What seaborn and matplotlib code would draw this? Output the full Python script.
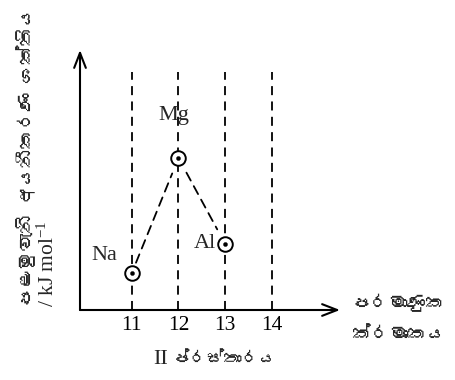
import matplotlib
matplotlib.use("Agg")
import matplotlib.pyplot as plt
import seaborn as sns
from matplotlib import font_manager, ft2font

# Data (relative heights, no scale on the y axis)
atomic_numbers = [11, 12, 13, 14]
elements = ["Na", "Mg", "Al"]
element_z = [11, 12, 13]
first_ie = [37, 152, 66]
y_label_si = "පළමුවැනි අයනීකරණ ශක්තිය"
y_label_unit = "/ kJ mol$^{-1}$"
x_label_si = "පරමාණුක\nක්රමාංකය"
graph_no = "II"
graph_word = "ප්රස්තාරය"


def find_sinhala_font():
    for f in font_manager.fontManager.ttflist:
        try:
            cmap = ft2font.FT2Font(f.fname).get_charmap()
        except Exception:
            continue
        if 0x0DB4 in cmap:
            return f.name
    return None


sns.set_theme(style="white")
plt.rcParams["font.family"] = ["Liberation Serif", "DejaVu Serif"]
plt.rcParams["mathtext.fontset"] = "custom"
plt.rcParams["mathtext.rm"] = "Liberation Serif"
plt.rcParams["mathtext.it"] = "Liberation Serif:italic"

si_font = find_sinhala_font()
si_family = [si_font, "DejaVu Sans"] if si_font else ["DejaVu Sans"]

fig = plt.figure(figsize=(4.55, 3.8), dpi=100)
ax = fig.add_axes([80 / 455, 70 / 380, 260 / 455, 260 / 380])
ax.set_xlim(9.89, 15.46)
ax.set_ylim(0, 260)
for s in ax.spines.values():
    s.set_visible(False)
ax.set_yticks([])
ax.set_xticks(atomic_numbers, labels=[str(z) for z in atomic_numbers])
ax.tick_params(axis="x", length=0, pad=4, labelsize=15.5, colors="black")

# axes as arrows
arrow = dict(arrowstyle="->,head_length=0.9,head_width=0.35", lw=1.5,
             color="black", shrinkA=0, shrinkB=0)
ax.annotate("", xy=(0, 1), xytext=(0, 0), xycoords="axes fraction", arrowprops=arrow)
ax.annotate("", xy=(1, 0), xytext=(0, 0), xycoords="axes fraction", arrowprops=arrow)

# dashed guide lines for each atomic number
ax.vlines(atomic_numbers, 0, 238, colors="black", linestyles=(0, (5, 3.5)), lw=1.3)

# dashed trend between the points
shrinks = [(8, 12), (12, 12)]
for i in range(len(element_z) - 1):
    ax.annotate("", xy=(element_z[i + 1], first_ie[i + 1]),
                xytext=(element_z[i], first_ie[i]),
                arrowprops=dict(arrowstyle="-", lw=1.3, color="black",
                                linestyle=(0, (5, 3.5)),
                                shrinkA=shrinks[i][0], shrinkB=shrinks[i][1]))

sns.scatterplot(x=element_z, y=first_ie, s=110, facecolor="white",
                edgecolor="black", linewidth=1.4, zorder=3, ax=ax)
sns.scatterplot(x=element_z, y=first_ie, s=9, color="black",
                edgecolor="black", zorder=4, ax=ax)

offsets = {"Na": (-20, 9), "Mg": (-3.6, 27.5), "Al": (-14.4, -2.9)}
for el, z, e in zip(elements, element_z, first_ie):
    ax.annotate(el, xy=(z, e), xytext=offsets[el], textcoords="offset points",
                ha="center", va="baseline", fontsize=16)

# labels
fig.text(26 / 455, 73 / 380, y_label_si, rotation=90, ha="center", va="bottom",
         fontsize=13.5, family=si_family)
fig.text(48 / 455, 73 / 380, y_label_unit, rotation=90, ha="center", va="bottom",
         fontsize=15.5)
fig.text(352 / 455, 62 / 380, x_label_si, ha="left", va="center",
         fontsize=13.5, family=si_family, linespacing=1.95)
fig.text(168 / 455, 16 / 380, graph_no, ha="right", va="baseline", fontsize=16)
fig.text(173 / 455, 16 / 380, graph_word, ha="left", va="baseline",
         fontsize=12.5, family=si_family)

fig.savefig("out.png", dpi=100)
